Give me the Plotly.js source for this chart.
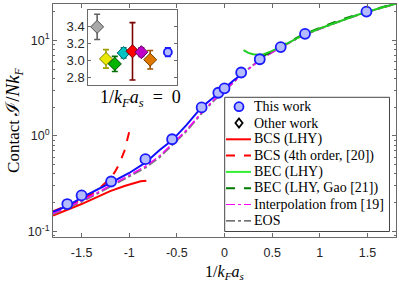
<!DOCTYPE html>
<html><head><meta charset="utf-8">
<script src="https://cdn.plot.ly/plotly-3.0.1.min.js"></script>
<style>html,body{margin:0;padding:0;background:#fff}</style>
</head><body><div id="chart" style="width:399px;height:282px"></div>
<script>
// ---- data ----
const thisX = [-1.65, -1.5, -1.19, -0.83, -0.55, -0.24, -0.065, 0.0, 0.175, 0.37, 0.59, 0.845, 1.49];
const thisC = [0.194, 0.239, 0.334, 0.572, 0.924, 1.99, 2.83, 3.15, 4.61, 6.34, 8.51, 11.7, 20.0];

const fitX = [-1.8, -1.65, -1.5, -1.35, -1.2, -1.0, -0.83, -0.68, -0.55, -0.4, -0.24, -0.1, 0.0, 0.1, 0.2];
const fitC = [0.161, 0.185, 0.226, 0.268, 0.322, 0.41, 0.525, 0.713, 0.90, 1.3, 2.0, 2.6, 3.15, 3.85, 4.55];

const bcsLhyX = [-1.8, -1.65, -1.5, -1.35, -1.2, -1.05, -0.95, -0.88, -0.82];
const bcsLhyC = [0.147, 0.168, 0.194, 0.226, 0.265, 0.30, 0.322, 0.335, 0.34];

const bcs4X = [-1.8, -1.65, -1.5, -1.4, -1.3, -1.2, -1.15, -1.1, -1.05, -1.0];
const bcs4C = [0.163, 0.186, 0.214, 0.245, 0.29, 0.36, 0.42, 0.52, 0.7, 1.1];

const becLhyX = [0.2, 0.25, 0.3, 0.35, 0.4, 0.45, 0.5, 0.6, 0.8, 1.0, 1.2, 1.4, 1.6, 1.8];
const becLhyC = [7.9, 7.4, 7.15, 7.05, 7.1, 7.35, 7.75, 8.65, 11.0, 13.3, 15.8, 18.5, 21.3, 24.2];

const gaoX = [0.4, 0.6, 0.8, 1.0, 1.2, 1.4, 1.6, 1.8];
const gaoC = [6.8, 8.8, 11.2, 13.5, 16.1, 18.8, 21.6, 24.5];

const eosX = [-1.8, -1.65, -1.5, -1.35, -1.2, -1.0, -0.83, -0.68, -0.55, -0.4, -0.24, -0.1, 0.0, 0.2, 0.4, 0.6, 0.8, 1.0, 1.2, 1.4, 1.6, 1.8];
const eosC = [0.152, 0.176, 0.205, 0.245, 0.294, 0.375, 0.465, 0.6, 0.8, 1.12, 1.72, 2.4, 2.95, 4.6, 6.6, 8.6, 11.0, 13.3, 15.8, 18.5, 21.3, 24.2];
const interpC = [0.155, 0.18, 0.21, 0.25, 0.30, 0.385, 0.48, 0.62, 0.82, 1.15, 1.76, 2.45, 2.98, 4.55, 6.55, 8.55, 10.9, 13.2, 15.7, 18.4, 21.2, 24.1];

// inset: contact at unitarity
const otherIdx = [1, 2, 3, 4, 5, 6, 7];
const otherC   = [3.40, 3.02, 2.96, 3.09, 3.11, 3.10, 3.01];
const otherErr = [0.15, 0.11, 0.09, 0.06, 0.34, 0.05, 0.11];
const thisIdx = [9];
const thisC0  = [3.10];
const thisErr0 = [0.05];

const yTickVals = [0.1, 1, 10];
const yTickText = ['10<sup>-1</sup>', '10<sup>0</sup>', '10<sup>1</sup>'];
const xTickVals = [-1.5, -1, -0.5, 0, 0.5, 1, 1.5];
const xTickText = ['-1.5', '-1', '-0.5', '0', '0.5', '1', '1.5'];
const insetTickVals = [2.8, 3.0, 3.2, 3.4];
const insetTickText = ['2.8', '3.0', '3.2', '3.4'];
const legendNames = ['This work', 'Other work', 'BCS (LHY)', 'BCS (4th order, [20])', 'BEC (LHY)',
  'BEC (LHY, Gao [21])', 'Interpolation from [19]', 'EOS'];

// ---- styles ----
const otherFill = ['#a8a8a8', '#e8e800', '#00b400', '#00c4c4', '#ff0000', '#c000c8', '#e07800'];
const otherEdge = ['#505050', '#808000', '#005000', '#006060', '#700000', '#600060', '#704000'];
const otherBar  = ['#606060', '#a0a000', '#007000', '#008080', '#7a0000', '#800080', '#a05000'];
const serif = 'Liberation Serif, DejaVu Serif, Times New Roman, serif';
const sans = 'Liberation Sans, Arial, sans-serif';
const blueFill = '#b4bcff', blueEdge = '#1a1aff';
const lineStyles = {
  bcsLhy: {color: '#ff0000', width: 2},
  bcs4: {color: '#ff0000', width: 2, dash: 'dash'},
  becLhy: {color: '#22cc22', width: 2},
  gao: {color: '#007a00', width: 2, dash: 'dash'},
  interp: {color: '#ff00ff', width: 1.5, dash: 'dashdot'},
  eos: {color: '#7a7a7a', width: 2, dash: 'dashdot'}
};
const legendLineStyles = [null, null, lineStyles.bcsLhy, lineStyles.bcs4, {color: '#33ee33', width: 2}, lineStyles.gao,
  {color: '#ff00ff', width: 1.2, dash: 'dashdot'}, {color: '#444', width: 1.2, dash: 'dashdot'}];

const traces = [];
traces.push({x: bcsLhyX, y: bcsLhyC, mode: 'lines', line: lineStyles.bcsLhy});
traces.push({x: bcs4X, y: bcs4C, mode: 'lines', line: lineStyles.bcs4});
traces.push({x: eosX, y: eosC, mode: 'lines', line: lineStyles.eos});
traces.push({x: eosX, y: interpC, mode: 'lines', line: lineStyles.interp});
traces.push({x: gaoX, y: gaoC, mode: 'lines', line: lineStyles.gao});
traces.push({x: becLhyX, y: becLhyC, mode: 'lines', line: lineStyles.becLhy});
traces.push({x: fitX, y: fitC, mode: 'lines', line: {color: '#1010ff', width: 2}});
traces.push({x: thisX, y: thisC, mode: 'markers',
  marker: {symbol: 'circle', size: 10, color: blueFill, line: {color: blueEdge, width: 1.8}}});

for (let i = 0; i < otherIdx.length; i++) {
  traces.push({x: [otherIdx[i]], y: [otherC[i]], xaxis: 'x2', yaxis: 'y2', mode: 'markers',
    error_y: {type: 'data', array: [otherErr[i]], color: otherBar[i], thickness: 1.6, width: 3},
    marker: {symbol: 'diamond', size: 10, color: otherFill[i], line: {color: otherEdge[i], width: 1}}});
}
traces.push({x: thisIdx, y: thisC0, xaxis: 'x2', yaxis: 'y2', mode: 'markers',
  error_y: {type: 'data', array: thisErr0, color: blueEdge, thickness: 1.6, width: 3},
  marker: {symbol: 'circle', size: 8, color: blueFill, line: {color: blueEdge, width: 1.8}}});

// ---- manual legend (compact spacing like the reference) ----
const W = 399, H = 282, mL = 53, mR = 3, mT = 4, mB = 45;
const pw = W - mL - mR, ph = H - mT - mB;
const px = v => (v - mL) / pw;
const py = v => (H - mB - v) / ph;
const shapes = [];
const annotations = [];
const legL = 224.7, legR = 389.5, legT = 97.3, legB = 231.5;
shapes.push({type: 'rect', xref: 'paper', yref: 'paper', x0: px(legL), x1: px(legR), y0: py(legB), y1: py(legT),
  line: {color: '#444', width: 1}, fillcolor: '#fff', layer: 'above'});
const row0 = 106.7, rowStep = 16.3;
legendNames.forEach((name, i) => {
  const yc = row0 + i * rowStep;
  const st = legendLineStyles[i];
  if (st) {
    shapes.push({type: 'line', xref: 'paper', yref: 'paper', x0: px(226), x1: px(251), y0: py(yc), y1: py(yc),
      line: st, layer: 'above'});
  } else if (i === 0) {
    shapes.push({type: 'circle', xref: 'paper', yref: 'paper', x0: px(234.5), x1: px(243.5), y0: py(yc + 4.5), y1: py(yc - 4.5),
      line: {color: blueEdge, width: 1.8}, fillcolor: blueFill, layer: 'above'});
  } else {
    const c = 239, r = 4.5;
    shapes.push({type: 'path', xref: 'paper', yref: 'paper', layer: 'above',
      path: `M ${px(c)},${py(yc - r)} L ${px(c + r * 0.8)},${py(yc)} L ${px(c)},${py(yc + r)} L ${px(c - r * 0.8)},${py(yc)} Z`,
      line: {color: '#000', width: 1.8}, fillcolor: '#fff'});
  }
  annotations.push({xref: 'paper', yref: 'paper', x: px(251.5), y: py(yc), xanchor: 'left', yanchor: 'middle',
    showarrow: false, text: name, font: {family: serif, size: 14, color: '#000'}});
});
annotations.push({xref: 'paper', yref: 'paper', x: px(140), y: py(98), xanchor: 'center', yanchor: 'middle', showarrow: false,
  text: '1/<i>k</i><sub><i>F</i></sub><i>a</i><sub><i>s</i></sub>\u2002=\u20020', font: {family: serif, size: 18, color: '#000'}});

const axCol = '#6a6a6a';
const layout = {
  width: W, height: H,
  margin: {l: mL, r: mR, t: mT, b: mB},
  paper_bgcolor: '#fff', plot_bgcolor: '#fff',
  showlegend: false,
  font: {family: sans, size: 12, color: '#262626'},
  xaxis: {range: [-1.8, 1.8], tickmode: 'array', tickvals: xTickVals, ticktext: xTickText,
    ticks: 'inside', ticklen: 4, tickcolor: axCol, showline: true, linecolor: axCol, linewidth: 1,
    mirror: 'ticks', showgrid: false, zeroline: false, ticklabelstandoff: 4,
    tickfont: {family: sans, size: 12.5, color: '#262626'},
    title: {text: '1/<i>k</i><sub><i>F</i></sub><i>a</i><sub><i>s</i></sub>', font: {family: serif, size: 16, color: '#000'}, standoff: 6}},
  yaxis: {type: 'log', range: [Math.log10(0.0877), Math.log10(24)], tickmode: 'array', tickvals: yTickVals, ticktext: yTickText,
    ticks: 'inside', ticklen: 4, tickcolor: axCol, showline: true, linecolor: axCol, linewidth: 1,
    mirror: 'ticks', showgrid: false, zeroline: false,
    minor: {ticks: 'inside', ticklen: 2, tickcolor: axCol, dtick: 'D1', showgrid: false},
    tickfont: {family: sans, size: 12.5, color: '#262626'},
    title: {text: 'Contact <span style="font-family:DejaVu Serif;font-size:19px">ℐ</span><span style="font-size:19px">/<i>Nk</i></span><sub><i>F</i></sub>',
      font: {family: serif, size: 17, color: '#000'}, standoff: 3}},
  xaxis2: {domain: [px(88.3), px(176.7)], anchor: 'y2', range: [0, 10], showticklabels: false, ticks: '',
    showline: true, mirror: true, linecolor: axCol, linewidth: 1, showgrid: false, zeroline: false},
  yaxis2: {domain: [py(85), py(10)], anchor: 'x2', range: [2.71, 3.6], tickmode: 'array', tickvals: insetTickVals, ticktext: insetTickText,
    ticks: 'inside', ticklen: 3, tickcolor: axCol, showline: true, mirror: 'ticks', linecolor: axCol, linewidth: 1,
    showgrid: false, zeroline: false, tickfont: {family: sans, size: 13, color: '#262626'}},
  shapes: shapes,
  annotations: annotations
};

Plotly.newPlot('chart', traces, layout, {displayModeBar: false, staticPlot: true});
</script></body></html>
